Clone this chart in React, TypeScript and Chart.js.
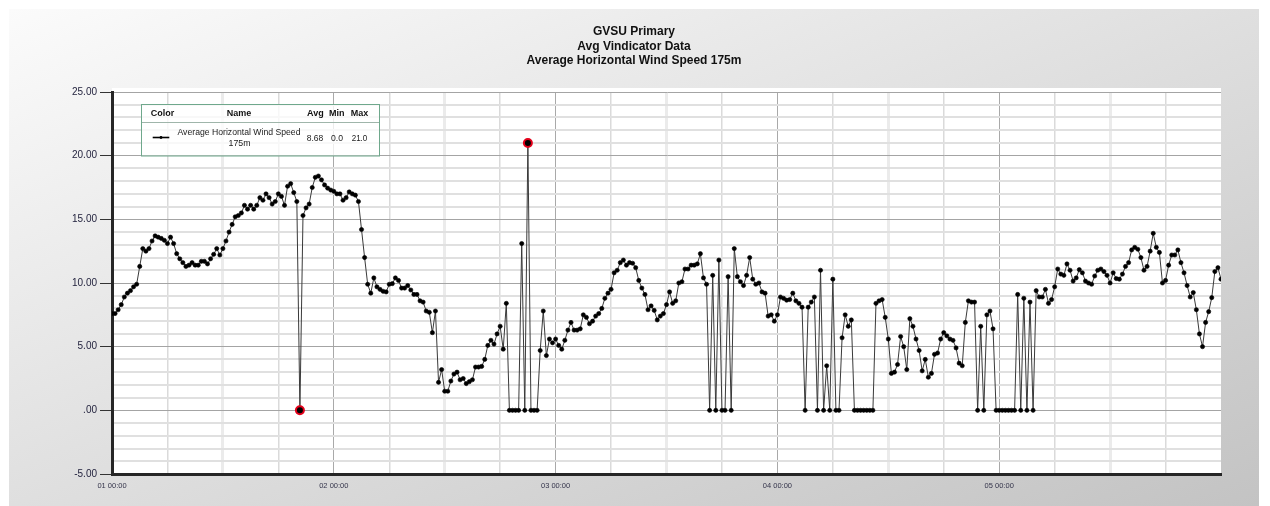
import React, { useEffect, useRef } from 'react';
import { Chart, registerables } from 'chart.js';

Chart.register(...registerables);

// ---- Text ----
const TITLE_LINES = ['GVSU Primary', 'Avg Vindicator Data', 'Average Horizontal Wind Speed 175m'];
const LEGEND_HEADERS = ['Color', 'Name', 'Avg', 'Min', 'Max'];
const SERIES_NAME_LINES = ['Average Horizontal Wind Speed', '175m'];
const LEGEND_STATS = ['8.68', '0.0', '21.0'];

// ---- Axes ----
const X_TICK_LABELS = ['01 00:00', '02 00:00', '03 00:00', '04 00:00', '05 00:00'];
const X_MIN_HOURS = 0;
const X_MAX_HOURS = 120;
const SAMPLE_STEP_HOURS = 1 / 3; // one reading every 20 minutes
const Y_MIN = -5;
const Y_MAX = 25;

// ---- Series: average horizontal wind speed at 175 m (m/s), 20-minute samples ----
const day1 = [
  7.6, 7.6, 7.9, 8.3, 8.9, 9.2, 9.4, 9.7, 9.9, 11.3, 12.7, 12.5,
  12.7, 13.3, 13.7, 13.6, 13.5, 13.35, 13.1, 13.6, 13.1, 12.3, 11.9, 11.6,
  11.3, 11.4, 11.6, 11.4, 11.4, 11.7, 11.7, 11.5, 11.9, 12.25, 12.7, 12.2,
  12.7, 13.3, 14.0, 14.6, 15.2, 15.3, 15.5, 16.1, 15.8, 16.1, 15.8, 16.1,
  16.7, 16.5, 17.0, 16.7, 16.2, 16.4, 17.0, 16.8, 16.1, 17.6, 17.8, 17.1,
  16.4, 0, 15.3, 15.9, 16.2, 17.5, 18.3, 18.4, 18.1, 17.7, 17.45, 17.3,
];
const day2 = [
  17.2, 17.0, 17.0, 16.5, 16.7, 17.15, 17.0, 16.9, 16.4, 14.2, 12.0, 9.9,
  9.2, 10.4, 9.7, 9.5, 9.35, 9.3, 9.9, 9.95, 10.4, 10.2, 9.6, 9.6,
  9.8, 9.45, 9.1, 9.1, 8.6, 8.5, 7.8, 7.7, 6.1, 7.8, 2.2, 3.2,
  1.5, 1.5, 2.3, 2.85, 3.0, 2.4, 2.5, 2.1, 2.25, 2.4, 3.4, 3.4,
  3.45, 4.0, 5.1, 5.5, 5.2, 6.0, 6.6, 4.8, 8.4, 0, 0, 0,
  0, 13.1, 0, 21.0, 0, 0, 0, 4.7, 7.8, 4.3, 5.6, 5.3,
];
const day3 = [
  5.6, 5.1, 4.8, 5.5, 6.3, 6.9, 6.3, 6.3, 6.4, 7.5, 7.3, 6.8,
  7.0, 7.4, 7.6, 8.0, 8.8, 9.2, 9.5, 10.8, 11.0, 11.6, 11.8, 11.4,
  11.6, 11.55, 11.2, 10.2, 9.6, 9.1, 7.9, 8.2, 7.85, 7.1, 7.4, 7.6,
  8.3, 9.3, 8.4, 8.6, 10.0, 10.1, 11.1, 11.1, 11.4, 11.4, 11.5, 12.3,
  10.4, 9.9, 0, 10.6, 0, 11.8, 0, 0, 10.5, 0, 12.7, 10.5,
  10.1, 9.8, 10.6, 12.0, 10.3, 9.9, 10.0, 9.3, 9.2, 7.4, 7.5, 7.0,
];
const day4 = [
  7.5, 8.9, 8.8, 8.65, 8.7, 9.2, 8.6, 8.4, 8.1, 0, 8.1, 8.5,
  8.9, 0, 11.0, 0, 3.5, 0, 10.3, 0, 0, 5.7, 7.5, 6.6,
  7.1, 0, 0, 0, 0, 0, 0, 0, 8.4, 8.6, 8.7, 7.3,
  5.6, 2.9, 3.0, 3.6, 5.8, 5.0, 3.2, 7.2, 6.6, 5.6, 4.7, 3.1,
  4.0, 2.6, 2.9, 4.4, 4.5, 5.6, 6.1, 5.85, 5.6, 5.5, 4.9, 3.7,
  3.5, 6.9, 8.6, 8.5, 8.5, 0, 6.6, 0, 7.5, 7.8, 6.4, 0,
];
const day5 = [
  0, 0, 0, 0, 0, 0, 9.1, 0, 8.8, 0, 8.5, 0,
  9.4, 8.9, 8.9, 9.5, 8.4, 8.7, 9.7, 11.1, 10.7, 10.6, 11.5, 11.0,
  10.15, 10.4, 11.05, 10.8, 10.15, 10.0, 9.9, 10.55, 11.0, 11.1, 10.9, 10.6,
  10.0, 10.8, 10.35, 10.3, 10.7, 11.3, 11.6, 12.6, 12.8, 12.65, 12.0, 11.0,
  11.3, 12.5, 13.9, 12.8, 12.4, 10.0, 10.2, 11.4, 12.2, 12.2, 12.6, 11.6,
  10.8, 9.8, 8.9, 9.25, 7.9, 6.0, 5.0, 6.9, 7.75, 8.85, 10.9, 11.2, 10.3,
];

const FONT = '"Liberation Sans", Arial, sans-serif';
const CANVAS_W = 1250;
const CANVAS_H = 497;

const speeds = [...day1, ...day2, ...day3, ...day4, ...day5];
const points = speeds.map((v, i) => ({ x: X_MIN_HOURS + i * SAMPLE_STEP_HOURS, y: v }));
const minIdx = speeds.indexOf(Math.min(...speeds));
const maxIdx = speeds.indexOf(Math.max(...speeds));
const isExtreme = (i: number) => i === minIdx || i === maxIdx;

const plotBgPlugin = {
  id: 'plotBg',
  beforeDraw(chart: any) {
    const { ctx, chartArea: a } = chart;
    ctx.save();
    ctx.fillStyle = '#ffffff';
    ctx.fillRect(a.left, a.top - 4, a.right - a.left, a.bottom - a.top + 4);
    ctx.restore();
  },
};

const overlayPlugin = {
  id: 'overlay',
  afterDraw(chart: any) {
    const { ctx } = chart;
    ctx.save();
    // Title
    ctx.fillStyle = '#111';
    ctx.textAlign = 'center';
    ctx.textBaseline = 'middle';
    ctx.font = `bold 12px ${FONT}`;
    TITLE_LINES.forEach((t, i) => ctx.fillText(t, CANVAS_W / 2, 23 + i * 14.3));

    // Legend box
    const L = 132, T = 95, W = 238, H = 51.5;
    ctx.fillStyle = 'rgba(255,255,255,0.78)';
    ctx.fillRect(L, T, W, H);
    ctx.strokeStyle = '#6fa88c';
    ctx.lineWidth = 1;
    ctx.strokeRect(L + 0.5, T + 0.5, W, H);
    ctx.strokeStyle = '#9fb5aa';
    ctx.beginPath();
    ctx.moveTo(L + 1, 113.5);
    ctx.lineTo(L + W, 113.5);
    ctx.stroke();

    ctx.fillStyle = '#111';
    ctx.font = `bold 9px ${FONT}`;
    ctx.textAlign = 'left';
    ctx.fillText(LEGEND_HEADERS[0], 141.7, 105);
    ctx.textAlign = 'center';
    ctx.fillText(LEGEND_HEADERS[1], 230, 105);
    ctx.textAlign = 'left';
    ctx.fillText(LEGEND_HEADERS[2], 298, 105);
    ctx.fillText(LEGEND_HEADERS[3], 320, 105);
    ctx.fillText(LEGEND_HEADERS[4], 341.7, 105);

    // sample line
    ctx.strokeStyle = '#000';
    ctx.lineWidth = 1.6;
    ctx.beginPath();
    ctx.moveTo(143.7, 128.5);
    ctx.lineTo(160.3, 128.5);
    ctx.stroke();
    ctx.fillStyle = '#000';
    ctx.beginPath();
    ctx.arc(152, 128.5, 1.4, 0, Math.PI * 2);
    ctx.fill();

    ctx.fillStyle = '#222';
    ctx.font = `9px ${FONT}`;
    ctx.textAlign = 'center';
    ctx.fillText(SERIES_NAME_LINES[0], 230, 123.7, 123);
    ctx.fillText(SERIES_NAME_LINES[1], 230.5, 134.3, 22);
    ctx.textAlign = 'left';
    ctx.fillText(LEGEND_STATS[0], 297.7, 129.3, 16.6);
    ctx.fillText(LEGEND_STATS[1], 322, 129.3, 12);
    ctx.fillText(LEGEND_STATS[2], 342.7, 129.3, 15.6);
    ctx.restore();
  },
};

export default function App() {
  const canvasRef = useRef<HTMLCanvasElement | null>(null);

  useEffect(() => {
    const canvas = canvasRef.current;
    if (!canvas) return;
    const chart = new Chart(canvas, {
      type: 'line',
      data: {
        datasets: [
          {
            label: TITLE_LINES[2],
            data: points,
            borderColor: '#3a3a3a',
            borderWidth: 1,
            tension: 0,
            pointRadius: (c: any) => (isExtreme(c.dataIndex) ? 4 : 2.1),
            pointBackgroundColor: '#000',
            pointBorderColor: (c: any) => (isExtreme(c.dataIndex) ? '#e3001a' : '#000'),
            pointBorderWidth: (c: any) => (isExtreme(c.dataIndex) ? 2 : 0.6),
            pointHoverRadius: 0,
          } as any,
        ],
      },
      options: {
        responsive: false,
        animation: false,
        events: [],
        devicePixelRatio: 1,
        layout: { padding: { left: 0, right: 38, top: 83, bottom: 0 } },
        plugins: {
          legend: { display: false },
          title: { display: false },
          tooltip: { enabled: false },
        },
        scales: {
          x: {
            type: 'linear',
            min: X_MIN_HOURS,
            max: X_MAX_HOURS,
            afterFit: (s: any) => {
              s.height = 32;
            },
            ticks: {
              stepSize: 6,
              autoSkip: false,
              maxRotation: 0,
              padding: 3,
              color: '#33334a',
              font: { size: 7.5, family: FONT },
              callback: (v: any) => {
                const n = Number(v);
                return n % 24 === 0 && X_TICK_LABELS[n / 24] ? X_TICK_LABELS[n / 24] : '';
              },
            },
            grid: {
              color: (c: any) => {
                const v = c.tick ? c.tick.value : 0;
                if (v >= X_MAX_HOURS) return 'rgba(0,0,0,0)';
                if (v % 24 === 0) return '#a9a9a9';
                if (v % 24 === 12) return '#ebebeb';
                return '#dadada';
              },
              lineWidth: (c: any) => {
                const v = c.tick ? c.tick.value : 0;
                if (v % 24 === 0) return 1;
                if (v % 24 === 12) return 3;
                return 1.5;
              },
              tickLength: 4,
              tickColor: 'rgba(0,0,0,0)',
            },
            border: { color: '#262626', width: 3 },
          },
          y: {
            min: Y_MIN,
            max: Y_MAX,
            afterFit: (s: any) => {
              s.width = 103;
            },
            ticks: {
              stepSize: 1,
              autoSkip: false,
              padding: 3,
              color: '#1e1e3a',
              font: { size: 10, family: FONT },
              callback: (v: any) => {
                const n = Number(v);
                if (n % 5 !== 0) return '';
                return n === 0 ? '.00' : n.toFixed(2);
              },
            },
            grid: {
              color: (c: any) => {
                const v = c.tick ? c.tick.value : 0;
                return v % 5 === 0 ? '#a4a4a4' : '#e0e0e0';
              },
              lineWidth: (c: any) => {
                const v = c.tick ? c.tick.value : 0;
                return v % 5 === 0 ? 1 : 2;
              },
              tickLength: 12,
              tickColor: (c: any) => {
                const v = c.tick ? c.tick.value : 0;
                return v % 5 === 0 ? '#333' : 'rgba(0,0,0,0)';
              },
            },
            border: { color: '#262626', width: 3 },
          },
        },
      } as any,
      plugins: [plotBgPlugin, overlayPlugin],
    });
    return () => chart.destroy();
  }, []);

  return (
    <div style={{ position: 'fixed', left: 0, top: 0, width: 1270, height: 506, background: '#ffffff' }}>
      <div
        style={{
          position: 'absolute',
          left: 9,
          top: 9,
          width: CANVAS_W,
          height: CANVAS_H,
          background: 'linear-gradient(to bottom right, #fbfbfb, #c3c3c3)',
        }}
      >
        <canvas
          ref={canvasRef}
          width={CANVAS_W}
          height={CANVAS_H}
          style={{ display: 'block', width: CANVAS_W, height: CANVAS_H }}
        />
      </div>
    </div>
  );
}
